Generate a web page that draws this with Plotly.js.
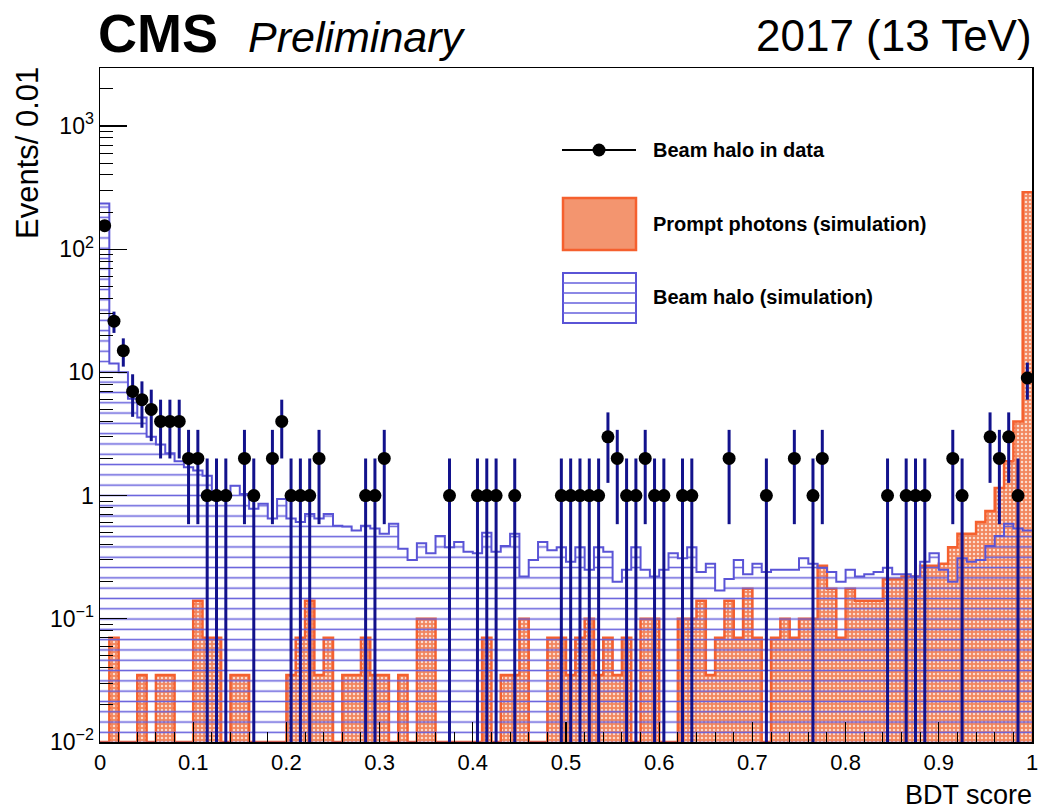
<!DOCTYPE html>
<html><head><meta charset="utf-8">
<script src="https://cdn.plot.ly/plotly-3.0.1.min.js"></script>
<style>html,body{margin:0;padding:0;background:#fff}</style>
</head><body>
<div id="chart" style="width:1039px;height:812px"></div>
<script>
// ---- data (100 bins of width 0.01 on BDT score 0..1) ----
const binWidth = 0.01;
const nBins = 100;

// Beam halo in data (event counts per bin)
const dataCounts = [
 155,26,15,7,6,5,4,4,4,2,
 2,1,1,1,0,2,1,0,2,4,
 1,1,1,2,0,0,0,0,1,1,
 2,0,0,0,0,0,0,1,0,0,
 1,1,1,0,1,0,0,0,0,1,
 1,1,1,1,3,2,1,1,2,1,
 1,0,1,1,0,0,0,2,0,0,
 0,1,0,0,2,0,1,2,0,0,
 0,0,0,0,1,0,1,1,1,0,
 0,2,1,0,0,3,2,3,1,9
];

// Beam halo (simulation)
const haloSim = [
 235,11.8,10,6.1,4.3,3.0,2.6,2.2,1.9,1.7,
 1.6,1.45,1.06,1.06,1.2,1.03,0.78,0.86,0.65,0.94,
 0.65,0.61,0.71,0.65,0.71,0.57,0.56,0.52,0.57,0.54,
 0.49,0.59,0.37,0.30,0.41,0.34,0.47,0.38,0.42,0.35,
 0.34,0.50,0.35,0.39,0.49,0.22,0.30,0.42,0.36,0.38,
 0.29,0.38,0.25,0.38,0.35,0.20,0.25,0.38,0.25,0.22,
 0.25,0.34,0.31,0.38,0.24,0.28,0.17,0.21,0.30,0.23,
 0.28,0.24,0.25,0.25,0.25,0.31,0.28,0.26,0.24,0.20,
 0.25,0.22,0.23,0.24,0.26,0.23,0.23,0.22,0.29,0.34,
 0.25,0.20,0.31,0.29,0.30,0.39,0.47,0.59,0.54,0.52
];

// Prompt photons (simulation)
const promptSim = [
 0,0.07,0,0,0.035,0,0.035,0.035,0,0,
 0.14,0.07,0.07,0,0.035,0.035,0,0,0,0,
 0.035,0.07,0.14,0.035,0.07,0,0.035,0.035,0.07,0.035,
 0.035,0,0.035,0,0.1,0.1,0,0,0,0,
 0,0.07,0,0.035,0.035,0.1,0,0,0.07,0.07,
 0.035,0.07,0.1,0.035,0.07,0.035,0.07,0,0.1,0.1,
 0,0,0.1,0.1,0.14,0.035,0.07,0.14,0.07,0.175,
 0.07,0,0.07,0.1,0.07,0.1,0.1,0.27,0.175,0.07,
 0.175,0.14,0.14,0.14,0.21,0.21,0.22,0.22,0.27,0.27,
 0.28,0.38,0.49,0.49,0.61,0.75,1.15,1.9,4.0,290
];

const xTickVals = [0,0.1,0.2,0.3,0.4,0.5,0.6,0.7,0.8,0.9,1];
const xTickText = ['0','0.1','0.2','0.3','0.4','0.5','0.6','0.7','0.8','0.9','1'];
const yTickVals = [0.01,0.1,1,10,100,1000];
const yTickText = ['10<sup>\u22122</sup>','10<sup>\u22121</sup>','1','10','10<sup>2</sup>','10<sup>3</sup>'];

// ---- derived drawing arrays ----
const yMinLog = -2, yMaxLog = 3.47;
const yFloor = Math.pow(10, yMinLog);
function stepArrays(vals){
  const xs = [], ys = [];
  for (let i = 0; i < vals.length; i++){
    xs.push(i*binWidth);
    ys.push(vals[i] > 0 ? vals[i] : yFloor);
  }
  xs.push(vals.length*binWidth);
  ys.push(vals[vals.length-1] > 0 ? vals[vals.length-1] : yFloor);
  return {xs, ys};
}
const promptStep = stepArrays(promptSim);
const haloStep = stepArrays(haloSim);

const dX = [], dY = [], dErr = [];
dataCounts.forEach((n,i)=>{ if(n>0){ dX.push((i+0.5)*binWidth); dY.push(n); dErr.push(Math.sqrt(n)); }});

const minorY = [];
for (let e = -2; e <= 3; e++) for (let d = 2; d <= 9; d++) minorY.push(d*Math.pow(10,e));

const FONT = 'Liberation Sans, Arial, Helvetica, sans-serif';
const orange = '#f5602e';
const blue = '#5a54d6';

const traces = [
  { type:'scatter', mode:'lines', x:promptStep.xs, y:promptStep.ys,
    line:{shape:'hv', color:orange, width:2.5}, fill:'tozeroy', fillcolor:'rgba(0,0,0,0)',
    fillpattern:{shape:'.', size:4, solidity:0.3, fgcolor:'#fcdccf', bgcolor:'#f2865e'},
    name:'Prompt photons (simulation)', showlegend:false, hoverinfo:'skip' },
  { type:'scatter', mode:'lines', x:haloStep.xs, y:haloStep.ys,
    line:{shape:'hv', color:blue, width:2}, fill:'tozeroy', fillcolor:'rgba(0,0,0,0)',
    fillpattern:{shape:'-', size:10.3, solidity:0.15, fgcolor:'#6660dc', bgcolor:'rgba(0,0,0,0)'},
    name:'Beam halo (simulation)', showlegend:false, hoverinfo:'skip' },
  { type:'scatter', mode:'markers', x:dX, y:dY,
    marker:{color:'#000', size:13, symbol:'circle'},
    error_y:{type:'data', array:dErr, visible:true, width:0, thickness:3, color:'#12128c'},
    name:'Beam halo in data', showlegend:false }
];

// pixel -> paper helpers (plot area: x 100..1032, y 68..742)
const W=1039, H=812;
const L=100, R=1032, T=68, B=742;
const px = v => (v-L)/(R-L);
const py = v => (B-v)/(B-T);

const shapes = [
  // legend: data
  {type:'line', xref:'paper', yref:'paper', x0:px(562), x1:px(636), y0:py(150), y1:py(150), line:{color:'#000', width:2}},
  {type:'circle', xref:'paper', yref:'paper', x0:px(592.5), x1:px(605.5), y0:py(143.5), y1:py(156.5), fillcolor:'#000', line:{color:'#000', width:0}},
  // legend: prompt photons
  {type:'rect', xref:'paper', yref:'paper', x0:px(563), x1:px(636), y0:py(198), y1:py(250), fillcolor:'#f3956f', line:{color:orange, width:2.5}},
  // legend: beam halo sim
  {type:'rect', xref:'paper', yref:'paper', x0:px(563), x1:px(636), y0:py(273), y1:py(323), fillcolor:'rgba(0,0,0,0)', line:{color:blue, width:2}}
];
[283,293,303,313].forEach(yy=>shapes.push({type:'line', xref:'paper', yref:'paper', x0:px(563), x1:px(636), y0:py(yy), y1:py(yy), line:{color:'#6660dc', width:1.5}}));

const annotations = [
  {text:'2017 (13 TeV)', xref:'paper', yref:'paper', x:px(1034), y:py(36), xanchor:'right', yanchor:'middle', showarrow:false, font:{family:FONT, size:44, color:'#000'}},
  {text:'Events/ 0.01', xref:'paper', yref:'paper', x:px(27), y:py(153), xanchor:'center', yanchor:'middle', textangle:-90, showarrow:false, font:{family:FONT, size:31, color:'#000'}},
  {text:'BDT score', xref:'paper', yref:'paper', x:px(1034), y:py(795), xanchor:'right', yanchor:'middle', showarrow:false, font:{family:FONT, size:27, color:'#000'}},
  {text:'<b>Beam halo in data</b>', xref:'paper', yref:'paper', x:px(651), y:py(150), xanchor:'left', yanchor:'middle', showarrow:false, font:{family:FONT, size:20, color:'#000'}},
  {text:'<b>Prompt photons (simulation)</b>', xref:'paper', yref:'paper', x:px(651), y:py(224), xanchor:'left', yanchor:'middle', showarrow:false, font:{family:FONT, size:20, color:'#000'}},
  {text:'<b>Beam halo (simulation)</b>', xref:'paper', yref:'paper', x:px(651), y:py(297), xanchor:'left', yanchor:'middle', showarrow:false, font:{family:FONT, size:20, color:'#000'}}
];

const layout = {
  width:W, height:H,
  margin:{l:L, r:W-R, t:T, b:H-B, pad:0},
  paper_bgcolor:'#fff', plot_bgcolor:'#fff',
  showlegend:false,
  title:{text:'<b>CMS</b>\u00a0\u00a0<i><span style="font-size:43px">Preliminary</span></i>',
    xref:'container', yref:'container', x:98/W, xanchor:'left', y:1-33/H, yanchor:'middle',
    font:{family:FONT, size:54, color:'#000'}},
  xaxis:{range:[0,1], tickmode:'array', tickvals:xTickVals, ticktext:xTickText,
    ticks:'inside', ticklen:20, tickwidth:1.2, tickcolor:'#000',
    showline:true, linecolor:'#000', linewidth:1.5, mirror:true,
    showgrid:false, zeroline:false,
    tickfont:{family:FONT, size:22, color:'#000'},
    minor:{tickmode:'linear', tick0:0, dtick:0.02, ticks:'inside', ticklen:10, tickwidth:1, tickcolor:'#000', showgrid:false}},
  yaxis:{type:'log', range:[yMinLog, yMaxLog], tickmode:'array', tickvals:yTickVals, ticktext:yTickText,
    ticks:'inside', ticklen:27, tickwidth:1.2, tickcolor:'#000',
    showline:true, linecolor:'#000', linewidth:1.5, mirror:true,
    showgrid:false, zeroline:false,
    tickfont:{family:FONT, size:23, color:'#000'},
    minor:{tickmode:'array', tickvals:minorY, ticks:'inside', ticklen:13, tickwidth:1, tickcolor:'#000', showgrid:false}},
  shapes, annotations
};

Plotly.newPlot('chart', traces, layout, {staticPlot:true, displayModeBar:false});
</script>
</body></html>
